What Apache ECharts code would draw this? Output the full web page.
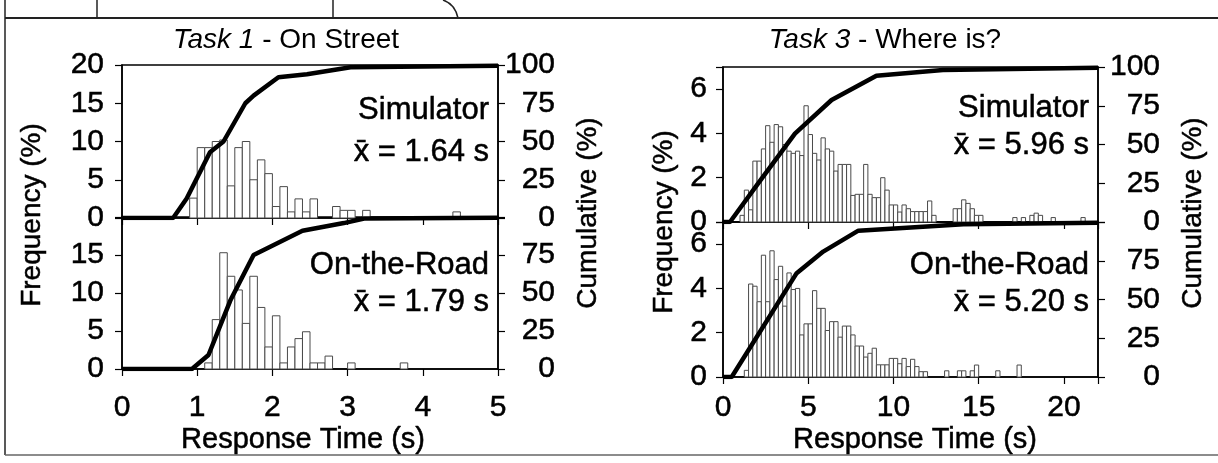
<!DOCTYPE html>
<html>
<head>
<meta charset="utf-8">
<script src="https://cdn.jsdelivr.net/npm/echarts@6/dist/echarts.min.js"></script>
<style>html,body{margin:0;padding:0;background:#fff;}#c{width:1218px;height:463px;}</style>
</head>
<body>
<div id="c"></div>
<script>
// ---------- DATA ----------
// Task 1 (0.1 s bins): [bin start (s), frequency (%)]
const task1SimBins = [[0.9,2.6],[1.0,9.2],[1.1,9.2],[1.2,10.0],[1.3,10.2],[1.4,4.2],[1.5,9.2],[1.6,10.0],[1.7,5.0],[1.8,7.6],[1.9,5.8],[2.0,1.5],[2.1,4.1],[2.2,0.8],[2.3,2.5],[2.4,0.8],[2.5,2.5],[2.8,1.5],[2.9,1.0],[3.0,1.0],[3.2,1.0],[4.4,0.8]];
const task1RoadBins = [[1.1,0.8],[1.2,6.5],[1.3,15.3],[1.4,12.2],[1.5,10.4],[1.6,6.0],[1.7,12.2],[1.8,8.1],[1.9,2.9],[2.0,7.0],[2.1,0.8],[2.2,2.9],[2.3,4.0],[2.4,4.9],[2.5,0.8],[2.6,0.8],[2.7,1.7],[3.0,0.8],[3.7,0.8]];
// Task 1 cumulative (%): [time (s), cumulative]
const task1SimCum = [[0,0],[0.68,0],[0.86,12.8],[1.17,43],[1.35,50],[1.64,75],[1.75,80],[2.08,92],[2.46,94],[3.04,98.5],[5.0,99.5]];
const task1RoadCum = [[0,0],[0.93,0],[1.15,9.2],[1.44,45],[1.75,75],[2.4,91],[2.95,96],[3.22,99],[5.0,99.5]];
// Task 3 (0.25 s bins)
const task3SimBins = [[1.0,0.3],[1.25,1.44],[1.5,0.55],[1.75,2.75],[2.0,2.75],[2.25,3.3],[2.5,4.35],[2.75,3.6],[3.0,4.4],[3.25,4.3],[3.5,3.5],[3.75,3.2],[4.0,3.1],[4.25,3.2],[4.5,3.0],[4.75,5.25],[5.0,3.95],[5.25,3.1],[5.5,2.8],[5.75,3.8],[6.0,3.3],[6.25,3.2],[6.5,2.3],[6.75,2.6],[7.0,2.6],[7.25,2.6],[7.5,1.2],[7.75,1.25],[8.0,1.25],[8.25,2.6],[8.5,1.25],[8.75,1.1],[9.0,1.1],[9.25,2.0],[9.5,1.44],[9.75,0.77],[10.0,0.77],[10.25,0.45],[10.5,0.77],[10.75,0.6],[11.0,0.47],[11.25,0.47],[11.5,0.47],[11.75,0.47],[12.0,0.95],[12.25,0.3],[13.5,0.6],[13.75,0.6],[14.0,1.0],[14.25,0.84],[14.5,0.6],[14.75,0.3],[15.0,0.3],[17.0,0.2],[17.5,0.2],[18.0,0.3],[18.25,0.4],[18.5,0.3],[19.25,0.2],[21.0,0.2]];
const task3RoadBins = [[1.25,0.3],[1.5,4.2],[1.75,4.1],[2.0,3.4],[2.25,5.5],[2.5,3.4],[2.75,5.7],[3.0,4.4],[3.25,5.0],[3.5,3.2],[3.75,4.7],[4.0,3.95],[4.25,4.0],[4.5,1.9],[4.75,2.4],[5.0,2.4],[5.25,3.9],[5.5,3.1],[5.75,3.1],[6.0,2.1],[6.25,2.5],[6.5,2.5],[6.75,1.8],[7.0,2.3],[7.25,2.3],[7.5,1.9],[7.75,1.4],[8.0,1.4],[8.25,0.9],[8.5,1.07],[8.75,1.3],[9.0,0.55],[9.25,0.55],[9.5,0.55],[9.75,0.84],[10.0,0.84],[10.25,0.6],[10.5,0.84],[10.75,0.47],[11.0,0.8],[11.25,0.47],[11.5,0.24],[11.75,0.24],[13.0,0.28],[13.75,0.28],[14.0,0.28],[14.5,0.28],[14.75,0.54],[16.0,0.28],[17.25,0.54]];
const task3SimCum = [[0,0],[0.41,0],[2.17,26.5],[4.22,57],[6.37,78.7],[9.0,94.4],[12.9,98],[22,99.5]];
const task3RoadCum = [[0,0],[0.51,0],[4.32,67],[5.88,80.9],[7.94,94.4],[14.1,98.5],[22,99.5]];
const task1BinWidth = 0.1, task3BinWidth = 0.25;
const titles = ['Task 1', 'Task 3'];
const subtitles = [' - On Street', ' - Where is?'];
const condLabels = ['Simulator', 'On-the-Road'];
const means = ['x\u0304 = 1.64 s', 'x\u0304 = 1.79 s', 'x\u0304 = 5.96 s', 'x\u0304 = 5.20 s'];

// ---------- CHART ----------
const FONT = "'Liberation Sans', Arial, Helvetica, sans-serif";
const chart = echarts.init(document.getElementById('c'), null, {renderer: 'canvas'});

const grids = [
  {left:122, top:65, width:376, height:153},
  {left:122, top:217, width:376, height:152},
  {left:723, top:67, width:375, height:155},
  {left:723, top:222, width:375, height:155}
];

function histItem(bw) {
  return function (params, api) {
    const x0 = api.value(0), h = api.value(1);
    const p0 = api.coord([x0, 0]);
    const p1 = api.coord([x0 + bw, h]);
    return {type:'rect', shape:{x:p0[0], y:p1[1], width:p1[0]-p0[0], height:p0[1]-p1[1]},
      style:{fill:'#fff', stroke:'#4a4a4a', lineWidth:1}};
  };
}

const lbl = {fontFamily: FONT, fontSize: 30, color: '#000', textBorderColor:'#000', textBorderWidth:0.5};
function xAx(gi, max, interval, showLabels, margin) {
  return {type:'value', gridIndex:gi, min:0, max:max, interval:interval,
    axisLine:{show:true, lineStyle:{color:'#000', width:1.5}},
    axisTick:{show:true, length:7, lineStyle:{color:'#000', width:1.2}},
    axisLabel:Object.assign({show:showLabels, margin:margin,
      formatter: v => (v % interval === 0 ? String(v) : '')}, lbl),
    splitLine:{show:false}};
}
function yAx(gi, max, interval, pos, hideTop, margin, align) {
  return {type:'value', gridIndex:gi, min:0, max:max, interval:interval, position:pos,
    axisLine:{show:true, lineStyle:{color:'#000', width:1.5}},
    axisTick:{show:true, length:7, lineStyle:{color:'#000', width:1.2}},
    axisLabel:Object.assign({margin:margin, align:align,
      formatter: v => ((v % interval !== 0) || (hideTop && v === max) ? '' : String(v))}, lbl),
    splitLine:{show:false}};
}
function txt(x, y, s, size, align, rot, italic) {
  const o = {type:'text', x:x, y:y, z:10, style:{text:s, font:(italic ? 'italic ' : '')+size+'px '+FONT, align:align, verticalAlign:'middle',
    fill:'#000', stroke:'#000', lineWidth:0.5}};
  if (rot) o.rotation = rot;
  return o;
}
// title: italic part + normal part, laid out as a group
function title(cx, i) {
  return {type:'text', x:cx, y:40, style:{text:'{i|'+titles[i]+'}{n|'+subtitles[i]+'}', align:'center', verticalAlign:'middle',
    rich:{i:{fontFamily:FONT, fontSize:28, fontStyle:'italic', color:'#000'},
          n:{fontFamily:FONT, fontSize:28, color:'#000'}}}};
}

const option = {
  backgroundColor:'#fff',
  animation:false,
  grid: grids.map(g => Object.assign({show:true, borderColor:'#000', borderWidth:1.5, backgroundColor:'transparent'}, g)),
  xAxis: [
    xAx(0, 5, 1, false, 10),
    xAx(1, 5, 1, true, 24),
    xAx(2, 22, 5, false, 10),
    xAx(3, 22, 5, true, 16)
  ],
  yAxis: [
    yAx(0, 20, 5, 'left', false, 18, 'right'),
    yAx(0, 100, 25, 'right', false, 57, 'right'),
    yAx(1, 20, 5, 'left', true, 18, 'right'),
    yAx(1, 100, 25, 'right', true, 57, 'right'),
    yAx(2, 7, 2, 'left', true, 16, 'right'),
    yAx(2, 100, 25, 'right', false, 62, 'right'),
    yAx(3, 7, 2, 'left', true, 16, 'right'),
    yAx(3, 100, 25, 'right', true, 62, 'right')
  ],
  series: [
    {type:'custom', xAxisIndex:0, yAxisIndex:0, renderItem:histItem(task1BinWidth), data:task1SimBins, encode:{x:0,y:1}, z:2},
    {type:'custom', xAxisIndex:1, yAxisIndex:2, renderItem:histItem(task1BinWidth), data:task1RoadBins, encode:{x:0,y:1}, z:2},
    {type:'custom', xAxisIndex:2, yAxisIndex:4, renderItem:histItem(task3BinWidth), data:task3SimBins, encode:{x:0,y:1}, z:2},
    {type:'custom', xAxisIndex:3, yAxisIndex:6, renderItem:histItem(task3BinWidth), data:task3RoadBins, encode:{x:0,y:1}, z:2},
    {type:'line', xAxisIndex:0, yAxisIndex:1, data:task1SimCum, showSymbol:false, lineStyle:{color:'#000', width:4.5}, z:5, clip:true},
    {type:'line', xAxisIndex:1, yAxisIndex:3, data:task1RoadCum, showSymbol:false, lineStyle:{color:'#000', width:4.5}, z:5, clip:true},
    {type:'line', xAxisIndex:2, yAxisIndex:5, data:task3SimCum, showSymbol:false, lineStyle:{color:'#000', width:4.5}, z:5, clip:true},
    {type:'line', xAxisIndex:3, yAxisIndex:7, data:task3RoadCum, showSymbol:false, lineStyle:{color:'#000', width:4.5}, z:5, clip:true}
  ],
  graphic: [
    // frame of the scanned page
    {type:'line', shape:{x1:5,y1:18,x2:1218,y2:18}, style:{stroke:'#222', lineWidth:2}},
    {type:'line', shape:{x1:5,y1:0,x2:5,y2:455}, style:{stroke:'#222', lineWidth:1.5}},
    {type:'line', shape:{x1:5,y1:455,x2:1218,y2:455}, style:{stroke:'#666', lineWidth:1.5}},
    {type:'line', shape:{x1:97,y1:0,x2:97,y2:18}, style:{stroke:'#222', lineWidth:1.5}},
    {type:'line', shape:{x1:333,y1:0,x2:333,y2:18}, style:{stroke:'#222', lineWidth:1.5}},
    {type:'bezierCurve', shape:{x1:443,y1:0,x2:458,y2:18,cpx1:455,cpy1:4}, style:{stroke:'#222', lineWidth:1.5, fill:null}},
    title(286, 0),
    title(885, 1),
    // annotations
    txt(489, 110, condLabels[0], 31, 'right'),
    txt(489, 152, means[0], 31, 'right'),
    txt(489, 265, condLabels[1], 31, 'right'),
    txt(489, 302, means[1], 31, 'right'),
    txt(1089, 108, condLabels[0], 31, 'right'),
    txt(1089, 145, means[2], 31, 'right'),
    txt(1089, 265, condLabels[1], 31, 'right'),
    txt(1089, 302, means[3], 31, 'right'),
    // axis titles
    txt(32, 215, 'Frequency (%)', 28, 'center', Math.PI/2),
    txt(588, 213, 'Cumulative (%)', 28, 'center', Math.PI/2),
    txt(664, 222, 'Frequency (%)', 28, 'center', Math.PI/2),
    txt(1193, 213, 'Cumulative (%)', 28, 'center', Math.PI/2),
    txt(303, 440, 'Response Time (s)', 29, 'center'),
    txt(915, 440, 'Response Time (s)', 29, 'center')
  ]
};
chart.setOption(option);
</script>
</body>
</html>
